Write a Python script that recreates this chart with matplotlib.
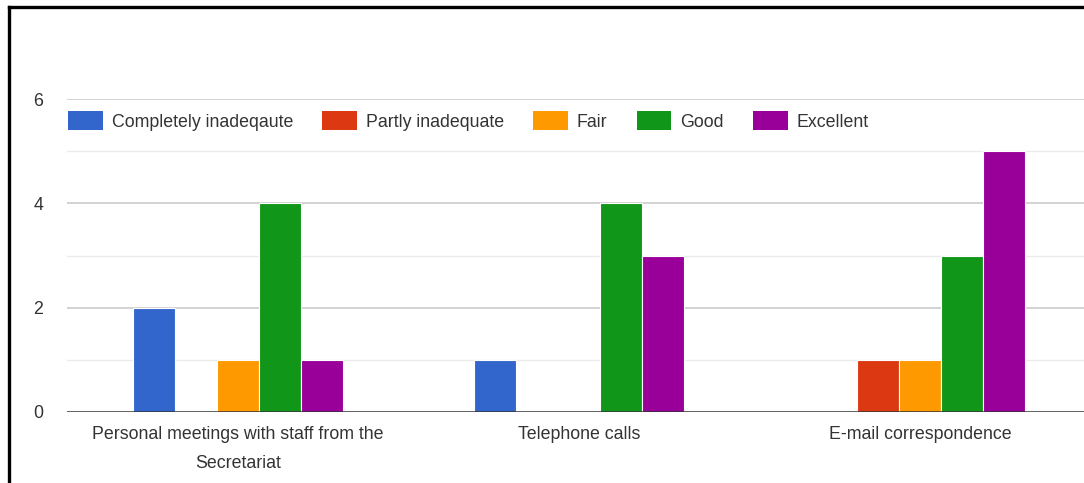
import numpy as np
import matplotlib
matplotlib.use('Agg')
import matplotlib.pyplot as plt
from matplotlib.lines import Line2D
from matplotlib.patches import Patch

plt.rcParams['font.family'] = ['Liberation Sans', 'DejaVu Sans']

# Survey counts per contact channel
categories = ['Personal meetings with staff from the\nSecretariat',
              'Telephone calls',
              'E-mail correspondence']
ratings = ['Completely inadeqaute', 'Partly inadequate', 'Fair', 'Good', 'Excellent']
completely_inadequate = [2, 1, 0]
partly_inadequate = [0, 0, 1]
fair = [1, 0, 1]
good = [4, 4, 3]
excellent = [1, 3, 5]
colors = ['#3366CC', '#DC3912', '#FF9900', '#109618', '#990099']
yticks = [0, 2, 4, 6]

series = [completely_inadequate, partly_inadequate, fair, good, excellent]
text_color = '#333333'
fs = 12.8

fig = plt.figure(figsize=(10.84, 4.83), dpi=100)
W, H = 1084, 483
ax = fig.add_axes([67 / W, (H - 412) / H, 1 - 67 / W, (412 - 99) / H])

x = np.arange(len(categories))
slot = 0.123
for i, (vals, c) in enumerate(zip(series, colors)):
    ax.bar(x + (i - 2) * slot, vals, width=slot, color=c,
           edgecolor='white', linewidth=0.8, zorder=3)

ax.set_xlim(-0.502, 2.48)
ax.set_ylim(0, 6)

# gridlines: major every 2, lighter ones in between
for v in [1, 3, 5]:
    ax.axhline(v, color='#ebebeb', linewidth=1, zorder=1)
for v in [2, 4, 6]:
    ax.axhline(v, color='#cccccc', linewidth=1.2, zorder=1)
ax.axhline(0, color='#333333', linewidth=1.8, zorder=4)

ax.set_yticks(yticks)
ax.set_yticklabels([str(v) for v in yticks], fontsize=fs, color=text_color)
ax.set_xticks(x)
ax.set_xticklabels(categories, fontsize=fs, color=text_color, linespacing=1.95)
ax.tick_params(axis='both', length=0)
ax.tick_params(axis='y', pad=17)
ax.tick_params(axis='x', pad=10)
for s in ax.spines.values():
    s.set_visible(False)

handles = [Patch(facecolor=c, edgecolor='none') for c in colors]
fig.legend(handles, ratings, loc='center left', bbox_to_anchor=(68 / W, (H - 121) / H),
           ncol=5, frameon=False, fontsize=fs, handlelength=1.95, handleheight=1.25,
           handletextpad=0.5, columnspacing=1.65, borderpad=0, borderaxespad=0,
           labelcolor=text_color)

# black frame on left and top
fig.add_artist(Line2D([9 / W, 9 / W], [0, 1 - 6.5 / H], color='black', linewidth=2.4,
                      transform=fig.transFigure))
fig.add_artist(Line2D([9 / W, 1], [1 - 6.5 / H, 1 - 6.5 / H], color='black', linewidth=2.4,
                      transform=fig.transFigure))

fig.savefig('out.png', dpi=100)
